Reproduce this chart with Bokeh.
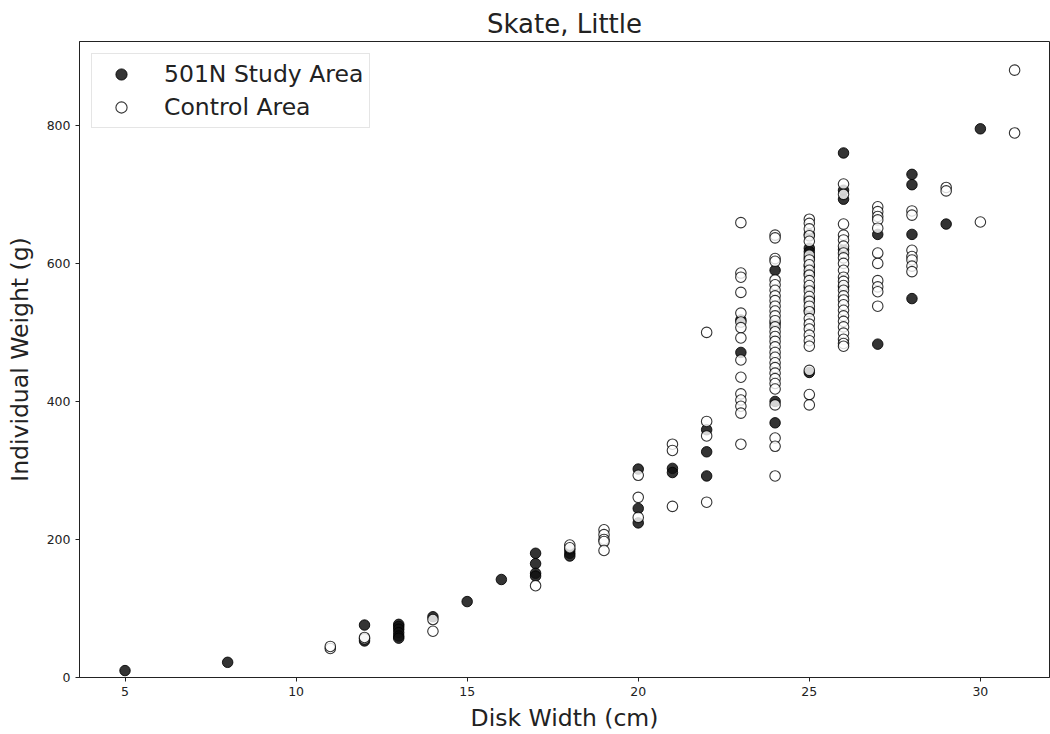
from bokeh.plotting import figure
from bokeh.models import FixedTicker, Legend, LegendItem, Range1d
from bokeh.embed import file_html
from bokeh.resources import INLINE

# Little skate: disk width (cm) vs individual weight (g)
study_width = (
    [5, 8, 12, 12, 13, 13, 13, 13, 13, 13, 14, 15, 16, 17, 17, 17, 17, 18, 18, 18,
     20, 20, 20, 21, 21, 22, 22, 22, 23, 23, 24, 24, 24, 24]
    + [25] * 10 + [26] * 5 + [27, 27, 28, 28, 28, 28, 29, 30]
)
study_weight = (
    [10, 22, 76, 53, 77, 74, 70, 65, 60, 57, 88, 110, 142, 180, 165, 151, 147, 185, 180, 176,
     302, 245, 224, 303, 297, 359, 327, 292, 518, 471, 590, 513, 400, 369]
    + [642, 622, 617, 608, 596, 585, 565, 548, 532, 442]
    + [760, 706, 693, 620, 566]
    + [642, 483, 729, 714, 642, 549, 657, 795]
)

control_width = (
    [11, 11, 12, 12, 14, 14, 17, 18, 18, 19, 19, 19, 19, 19, 20, 20, 20, 21, 21, 21,
     22, 22, 22, 22]
    + [23] * 15 + [24] * 30 + [25] * 26 + [26] * 25 + [27] * 11 + [28] * 7
    + [29, 29, 30, 31, 31]
)
control_weight = (
    [42, 45, 56, 58, 84, 67, 133, 192, 188, 214, 207, 200, 197, 184, 293, 261, 232, 338, 329, 248,
     500, 371, 350, 254]
    + [659, 586, 580, 558, 528, 515, 507, 492, 460, 435, 411, 402, 393, 383, 338]
    + [641, 637, 607, 603, 576, 569, 561, 553, 546, 538, 531, 524, 517, 508, 501,
       494, 487, 479, 471, 464, 456, 449, 441, 433, 426, 418, 395, 347, 335, 292]
    + [664, 658, 650, 640, 632, 612, 605, 598, 590, 583, 575, 568, 560, 552, 545,
       538, 530, 520, 512, 505, 496, 488, 480, 445, 410, 395]
    + [715, 700, 657, 641, 634, 625, 615, 608, 600, 590, 580, 574, 568, 561, 553,
       547, 540, 532, 524, 516, 508, 499, 490, 484, 480]
    + [682, 675, 668, 663, 651, 615, 600, 575, 566, 559, 538]
    + [676, 670, 619, 610, 605, 596, 588]
    + [710, 705, 660, 880, 789]
)

x_ticks = [5, 10, 15, 20, 25, 30]
y_ticks = [0, 200, 400, 600, 800]

FONT = "DejaVu Sans"

p = figure(
    width=1050, height=734,
    output_backend="svg", toolbar_location=None,
    x_range=Range1d(3.67, 32.02), y_range=Range1d(0, 921.5),
    min_border_left=79, min_border_right=1, min_border_top=41, min_border_bottom=56,
    title="Skate, Little",
)
p.title.align = "center"
p.title.text_font = FONT
p.title.text_font_size = "26px"
p.title.text_font_style = "normal"
p.title.text_color = "#222222"
p.title.standoff = 6

p.grid.visible = False
p.outline_line_color = "#222222"
p.outline_line_width = 1
p.background_fill_color = "white"
p.border_fill_color = "white"

p.xaxis.ticker = FixedTicker(ticks=x_ticks)
p.yaxis.ticker = FixedTicker(ticks=y_ticks)
for ax in (p.xaxis[0], p.yaxis[0]):
    ax.axis_line_color = "#222222"
    ax.major_tick_line_color = "#222222"
    ax.major_tick_out = 4
    ax.major_tick_in = 0
    ax.minor_tick_line_color = None
    ax.major_label_text_font = FONT
    ax.major_label_text_font_size = "12.5px"
    ax.major_label_text_color = "#222222"
    ax.axis_label_text_font = FONT
    ax.axis_label_text_font_size = "23.5px"
    ax.axis_label_text_font_style = "normal"
    ax.axis_label_text_color = "#222222"

p.xaxis.axis_label = "Disk Width (cm)"
p.yaxis.axis_label = "Individual Weight (g)"
p.xaxis.major_label_standoff = 5
p.xaxis.axis_label_standoff = 5
p.yaxis.major_label_standoff = 5
p.yaxis.axis_label_standoff = 10

study = p.scatter(
    study_width, study_weight, size=10.5, marker="circle",
    fill_color="#111111", line_color="#000000", fill_alpha=0.85, line_alpha=0.85, line_width=1,
)
control = p.scatter(
    control_width, control_weight, size=10.5, marker="circle",
    fill_color="white", line_color="#000000", fill_alpha=0.8, line_alpha=0.8, line_width=1.1,
)

legend = Legend(
    items=[
        LegendItem(label="501N Study Area", renderers=[study]),
        LegendItem(label="Control Area", renderers=[control]),
    ],
    location="top_left",
    margin=12,
    padding=6,
    spacing=5,
    glyph_width=46,
    glyph_height=28,
    label_height=28,
    label_standoff=20,
    label_text_font=FONT,
    label_text_font_size="23.5px",
    label_text_color="#222222",
    border_line_color="#cccccc",
    border_line_width=1,
    background_fill_alpha=0.8,
)
p.add_layout(legend, "center")

open("out.html", "w").write(file_html(p, INLINE))
